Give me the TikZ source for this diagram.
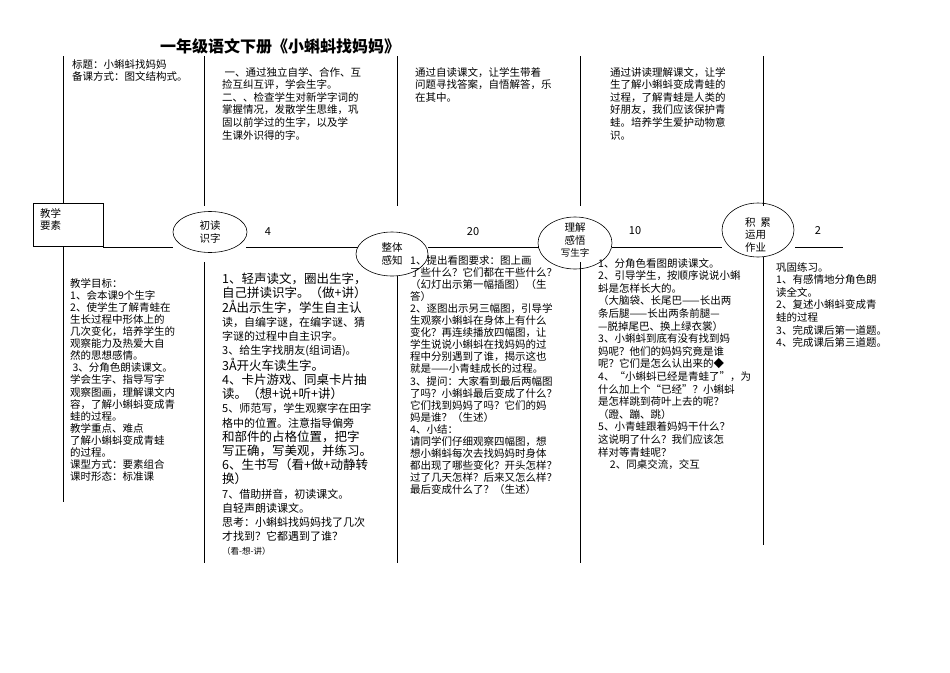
\documentclass[tikz,border=0pt]{standalone}
\usetikzlibrary{shapes.geometric}
\usepackage{fontspec}
\setmainfont{Noto Sans CJK SC}
\begin{document}
\begin{tikzpicture}[x=1pt,y=-1pt,
  txt/.style={anchor=north west,inner sep=0pt,align=left,font=\fontsize{10.5}{12.6}\selectfont},
  tight/.style={anchor=north west,inner sep=0pt,align=left,font=\fontsize{10.5}{12.1}\selectfont},
  big/.style={anchor=north west,inner sep=0pt,align=left,font=\fontsize{12.5}{14.2}\selectfont},
  ln/.style={line width=0.6pt},
  num/.style={inner sep=0pt,font=\fontsize{11}{13}\selectfont}]
\useasboundingbox (0,0) rectangle (950,672);
\node[inner sep=0pt,font=\bfseries\fontsize{16}{18}\selectfont] (title) at (280,46) {一年级语文下册《小蝌蚪找妈妈》};
% top vertical lines
\foreach \x/\b in {63/203,204/206,397/206,580/206,763/206}{\draw[ln] (\x,56) -- (\x,\b);}
% box
\node[draw,ln,minimum width=70pt,minimum height=43pt,anchor=north west,inner sep=0pt] (box) at (33,203) {};
\node[txt] (boxt) at (40,208) {教学\\要素};
% stages
\node[draw,ln,ellipse,minimum width=74pt,minimum height=41pt,inner sep=0pt] (s1) at (210,232) {};
\node[txt,align=center,anchor=center] at (210,232) {初读\\识字};
\node[draw,ln,ellipse,minimum width=72pt,minimum height=44pt,inner sep=0pt] (s2) at (392,254) {};
\node[txt,align=center,anchor=center] at (392,254) {整体\\感知};
\node[draw,ln,ellipse,minimum width=74pt,minimum height=52pt,inner sep=0pt] (s3) at (575,243) {};
\node[txt,align=center,anchor=center] at (575,240) {理解\\感悟\\{\fontsize{9.5}{11}\selectfont 写生字}};
\node[draw,ln,ellipse,minimum width=72pt,minimum height=54pt,inner sep=0pt] (s4) at (758,230) {};
\node[txt,align=left,anchor=center] at (758,235) {积\ \ 累\\运用\\作业};
\coordinate (e1) at (843,247);
\draw[ln] (103,247) -- (173,247);
\draw[ln] (246,247) -- (358,247);
\draw[ln] (428,247) -- (539,247);
\draw[ln] (612,247) -- (722,247);
\draw[ln] (795,247) -- (e1);
\node[num] (n1) at (268,232) {4};
\node[num] (n2) at (473,232) {20};
\node[num] (n3) at (635,231) {10};
\node[num] (n4) at (818,231) {2};
% bottom vertical lines
\draw[ln] (63,246) -- (63,502);
\draw[ln] (204,262) -- (204,563);
\draw[ln] (397,276) -- (397,563);
\draw[ln] (580,262) -- (580,563);
\draw[ln] (763,257) -- (763,545);
% top texts
\node[txt] (t1) at (72,59) {标题：小蝌蚪找妈妈\\备课方式：图文结构式。};
\node[txt] (t2) at (222,67) {\ 一、通过独立自学、合作、互\\捡互纠互评，学会生字。\\二、、检查学生对新学字词的\\掌握情况，发散学生思维，巩\\固以前学过的生字，以及学\\生课外识得的字。};
\node[txt] (t3) at (415,67) {通过自读课文，让学生带着\\问题寻找答案，自悟解答，乐\\在其中。};
\node[txt] (t4) at (610,67) {通过讲读理解课文，让学\\生了解小蝌蚪变成青蛙的\\过程，了解青蛙是人类的\\好朋友，我们应该保护青\\蛙。培养学生爱护动物意\\识。};
% bottom texts
\node[tight] (b1) at (70,278) {教学目标：\\1、会本课9个生字\\2、使学生了解青蛙在\\生长过程中形体上的\\几次变化，培养学生的\\观察能力及热爱大自\\然的思想感情。\\\ 3、分角色朗读课文。\\学会生字、指导写字\\观察图画，理解课文内\\容，了解小蝌蚪变成青\\蛙的过程。\\教学重点、难点\\了解小蝌蚪变成青蛙\\的过程。\\课型方式：要素组合\\课时形态：标准课};
\node[big] (b2) at (222,273) {1、轻声读文，圈出生字，\\自己拼读识字。（做+讲）\\2Å出示生字，学生自主认\\{\fontsize{11}{14}\selectfont 读，自编字谜，在编字谜、猜}\\{\fontsize{11}{14}\selectfont 字谜的过程中自主识字。}\\{\fontsize{11}{14}\selectfont 3、给生字找朋友(组词语)。}\\3Å开火车读生字。\\4、卡片游戏、同桌卡片抽\\读。（想+说+听+讲）\\{\fontsize{11}{14}\selectfont 5、师范写，学生观察字在田字}\\{\fontsize{11}{14}\selectfont 格中的位置。注意指导偏旁}\\和部件的占格位置，把字\\写正确，写美观，并练习。\\6、生书写（看+做+动静转\\换）\\{\fontsize{11}{13}\selectfont 7、借助拼音，初读课文。}\\{\fontsize{11}{13}\selectfont 自轻声朗读课文。}\\{\fontsize{11}{13}\selectfont 思考：小蝌蚪找妈妈找了几次}\\{\fontsize{11}{13}\selectfont 才找到？它都遇到了谁？}\\{\fontsize{8.5}{10}\selectfont （看-想-讲）}};
\node[tight] (b3) at (410,255) {1、提出看图要求：图上画\\了些什么？它们都在干些什么？\\（幻灯出示第一幅插图）（生\\答）\\2、逐图出示另三幅图，引导学\\生观察小蝌蚪在身体上有什么\\变化？再连续播放四幅图，让\\学生说说小蝌蚪在找妈妈的过\\程中分别遇到了谁，揭示这也\\就是——小青蛙成长的过程。\\3、提问：大家看到最后两幅图\\了吗？小蝌蚪最后变成了什么？\\它们找到妈妈了吗？它们的妈\\妈是谁？（生述）\\4、小结：\\请同学们仔细观察四幅图，想\\想小蝌蚪每次去找妈妈时身体\\都出现了哪些变化？开头怎样？\\过了几天怎样？后来又怎么样？\\最后变成什么了？（生述）};
\node[txt] (b4) at (598,258) {1、分角色看图朗读课文。\\2、引导学生，按顺序说说小蝌\\蚪是怎样长大的。\\（大脑袋、长尾巴——长出两\\条后腿——长出两条前腿—\\—脱掉尾巴、换上绿衣裳）\\3、小蝌蚪到底有没有找到妈\\妈呢？他们的妈妈究竟是谁\\呢？它们是怎么认出来的◆\\4、“小蝌蚪已经是青蛙了”，为\\什么加上个“已经”？小蝌蚪\\是怎样跳到荷叶上去的呢？\\（蹬、蹦、跳）\\5、小青蛙跟着妈妈干什么？\\这说明了什么？我们应该怎\\样对等青蛙呢？\\\ \ \ \ \ 2、同桌交流，交互};
\node[txt] (b5) at (776,262) {巩固练习。\\1、有感情地分角色朗\\读全文。\\2、复述小蝌蚪变成青\\蛙的过程\\3、完成课后第一道题。\\4、完成课后第三道题。};
\end{tikzpicture}
\end{document}
